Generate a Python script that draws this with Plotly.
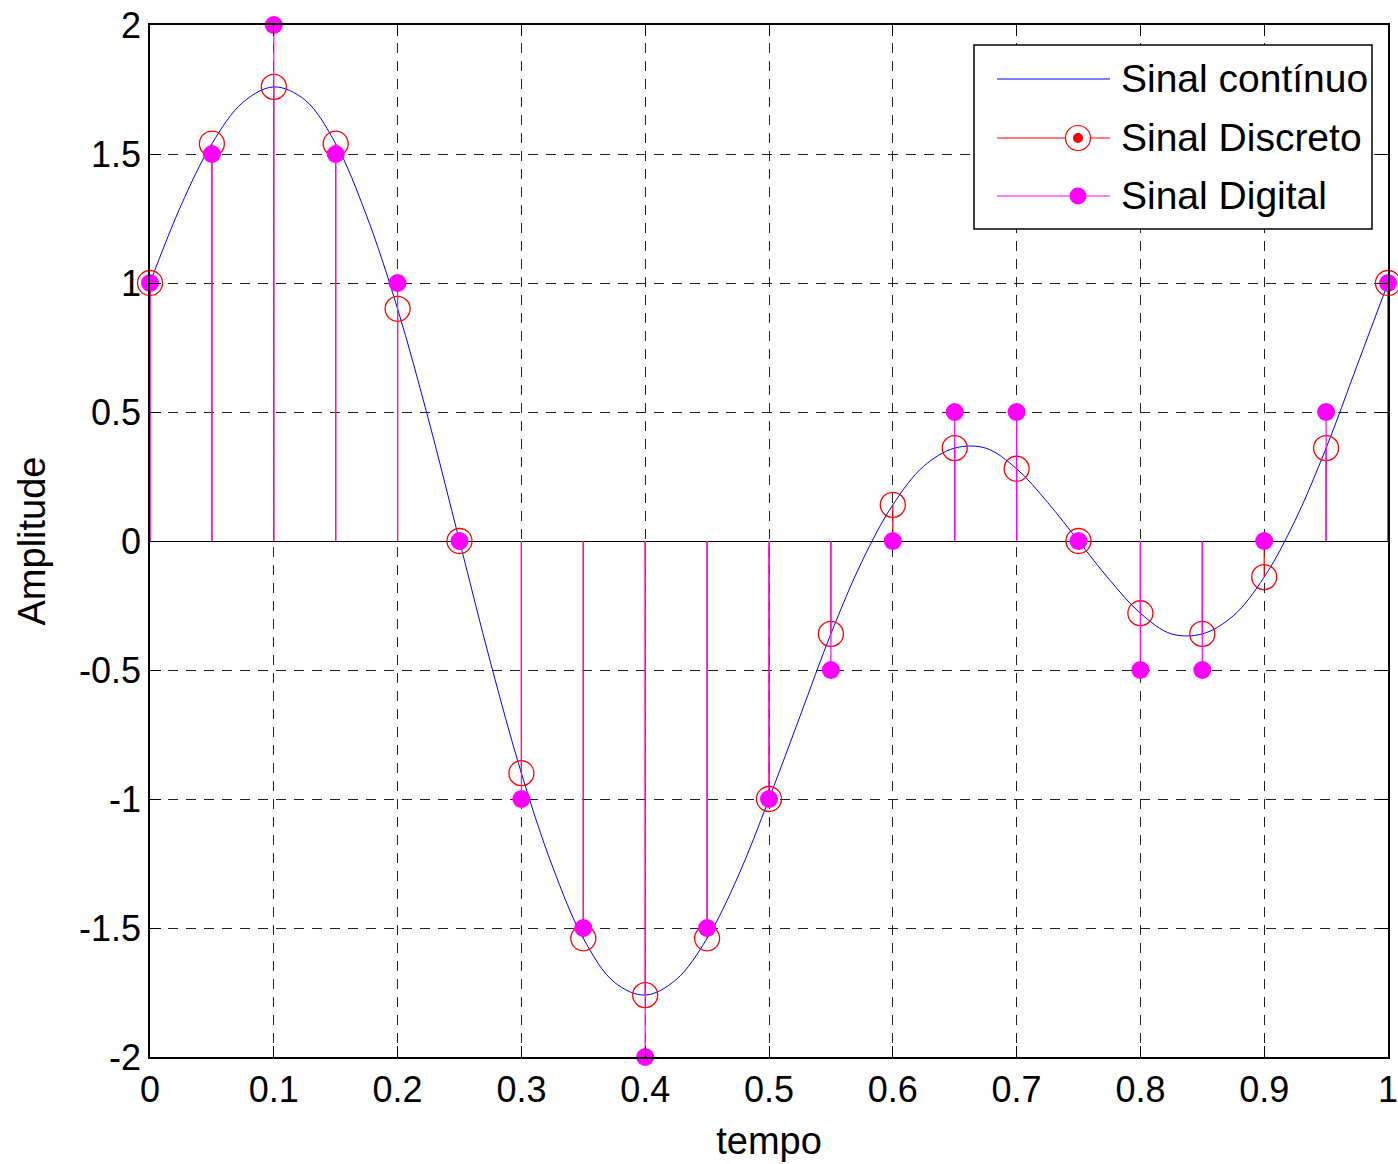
import plotly.graph_objects as go

# Continuous signal, read at 0.025 s steps
t_cont = [0.000, 0.025, 0.050, 0.075, 0.100, 0.125, 0.150, 0.175, 0.200, 0.225,
          0.250, 0.275, 0.300, 0.325, 0.350, 0.375, 0.400, 0.425, 0.450, 0.475,
          0.500, 0.525, 0.550, 0.575, 0.600, 0.625, 0.650, 0.675, 0.700, 0.725,
          0.750, 0.775, 0.800, 0.825, 0.850, 0.875, 0.900, 0.925, 0.950, 0.975, 1.000]
x_cont = [1.00, 1.30, 1.54, 1.70, 1.76, 1.71, 1.54, 1.26, 0.90, 0.47,
          0.00, -0.47, -0.90, -1.26, -1.54, -1.71, -1.76, -1.70, -1.54, -1.30,
          -1.00, -0.68, -0.36, -0.08, 0.14, 0.29, 0.36, 0.36, 0.28, 0.15,
          0.00, -0.15, -0.28, -0.36, -0.36, -0.29, -0.14, 0.08, 0.36, 0.68, 1.00]

# Sampled signal (every 0.05 s) and its quantised version (0.5 steps)
t_samp = [0.00, 0.05, 0.10, 0.15, 0.20, 0.25, 0.30, 0.35, 0.40, 0.45, 0.50,
          0.55, 0.60, 0.65, 0.70, 0.75, 0.80, 0.85, 0.90, 0.95, 1.00]
x_disc = [1.00, 1.54, 1.76, 1.54, 0.90, 0.00, -0.90, -1.54, -1.76, -1.54, -1.00,
          -0.36, 0.14, 0.36, 0.28, 0.00, -0.28, -0.36, -0.14, 0.36, 1.00]
x_dig = [1.0, 1.5, 2.0, 1.5, 1.0, 0.0, -1.0, -1.5, -2.0, -1.5, -1.0,
         -0.5, 0.0, 0.5, 0.5, 0.0, -0.5, -0.5, 0.0, 0.5, 1.0]

x_ticks = [0, 0.1, 0.2, 0.3, 0.4, 0.5, 0.6, 0.7, 0.8, 0.9, 1]
x_ticklabels = ["0", "0.1", "0.2", "0.3", "0.4", "0.5", "0.6", "0.7", "0.8", "0.9", "1"]
y_ticks = [-2, -1.5, -1, -0.5, 0, 0.5, 1, 1.5, 2]
y_ticklabels = ["-2", "-1.5", "-1", "-0.5", "0", "0.5", "1", "1.5", "2"]

legend_labels = ["Sinal contínuo", "Sinal Discreto", "Sinal Digital"]

BLUE = "#0000FF"
RED = "#FF0000"
MAGENTA = "#FF00FF"
FONT = "Liberation Sans, Arial, sans-serif"


def stems(ts, vs):
    xs, ys = [], []
    for t, v in zip(ts, vs):
        xs += [t, t, None]
        ys += [0, v, None]
    return xs, ys


fig = go.Figure()

fig.add_trace(go.Scatter(x=t_cont, y=x_cont, mode="lines",
                         line=dict(color=BLUE, width=1, shape="spline", smoothing=1.0),
                         hoverinfo="skip"))

sx, sy = stems(t_samp, x_disc)
fig.add_trace(go.Scatter(x=sx, y=sy, mode="lines", line=dict(color=RED, width=1.2),
                         hoverinfo="skip"))
fig.add_trace(go.Scatter(x=t_samp, y=x_disc, mode="markers", cliponaxis=False,
                         marker=dict(symbol="circle-open", size=25, color=RED,
                                     line=dict(width=1.3, color=RED))))

sx, sy = stems(t_samp, x_dig)
fig.add_trace(go.Scatter(x=sx, y=sy, mode="lines", line=dict(color=MAGENTA, width=1.2),
                         hoverinfo="skip"))
fig.add_trace(go.Scatter(x=t_samp, y=x_dig, mode="markers", cliponaxis=False,
                         marker=dict(symbol="circle", size=18, color=MAGENTA,
                                     line=dict(width=0))))

# Hand-built legend box in the upper right corner
PW, PH, L, B = 1238.0, 1032.0, 150.0, 1057.0


def px(xp):
    return (xp - L) / PW


def py(yp):
    return (B - yp) / PH


shapes = [dict(type="rect", xref="paper", yref="paper",
               x0=px(974), x1=px(1372), y0=py(229), y1=py(45),
               fillcolor="white", line=dict(color="black", width=1.5), layer="above")]
rows = [79, 138, 196]
row_colors = [BLUE, RED, MAGENTA]
for yp, col in zip(rows, row_colors):
    shapes.append(dict(type="line", xref="paper", yref="paper",
                       x0=px(997), x1=px(1110), y0=py(yp), y1=py(yp),
                       line=dict(color=col, width=1), layer="above"))


def dot(xp, yp, r, fill, line_col, lw):
    return dict(type="circle", xref="paper", yref="paper",
                xsizemode="pixel", ysizemode="pixel",
                xanchor=px(xp), yanchor=py(yp),
                x0=-r, x1=r, y0=-r, y1=r,
                fillcolor=fill, line=dict(color=line_col, width=lw), layer="above")


shapes.append(dot(1078, rows[1], 12.5, "white", RED, 1.2))
shapes.append(dot(1078, rows[1], 5, RED, RED, 0))
shapes.append(dot(1078, rows[2], 8.5, MAGENTA, MAGENTA, 0))

annotations = []
for yp, label in zip(rows, legend_labels):
    annotations.append(dict(x=px(1119), y=py(yp), xref="paper", yref="paper",
                            text=label, showarrow=False, xanchor="left", yanchor="middle",
                            font=dict(family=FONT, size=39, color="black")))

axis_common = dict(showline=True, linecolor="black", linewidth=1.5, mirror="ticks",
                   ticks="inside", ticklen=11, tickcolor="black", tickwidth=1,
                   showgrid=True, gridcolor="#222222", gridwidth=1, griddash="10px,8px",
                   automargin=False, ticklabeloverflow="allow",
                   tickfont=dict(family=FONT, size=36, color="black"))

fig.update_layout(
    width=1398, height=1164,
    margin=dict(l=150, r=10, t=25, b=107),
    paper_bgcolor="white", plot_bgcolor="white",
    showlegend=False,
    shapes=shapes, annotations=annotations,
    xaxis=dict(range=[0, 1], tickvals=x_ticks, ticktext=x_ticklabels,
               title=dict(text="tempo", font=dict(family=FONT, size=38, color="black"),
                          standoff=18),
               zeroline=False, **axis_common),
    yaxis=dict(range=[-2, 2], tickvals=y_ticks, ticktext=y_ticklabels,
               title=dict(text="Amplitude", font=dict(family=FONT, size=38, color="black"),
                          standoff=22),
               zeroline=True, zerolinecolor="black", zerolinewidth=1.2,
               **axis_common),
)

fig.write_html("out.html")
